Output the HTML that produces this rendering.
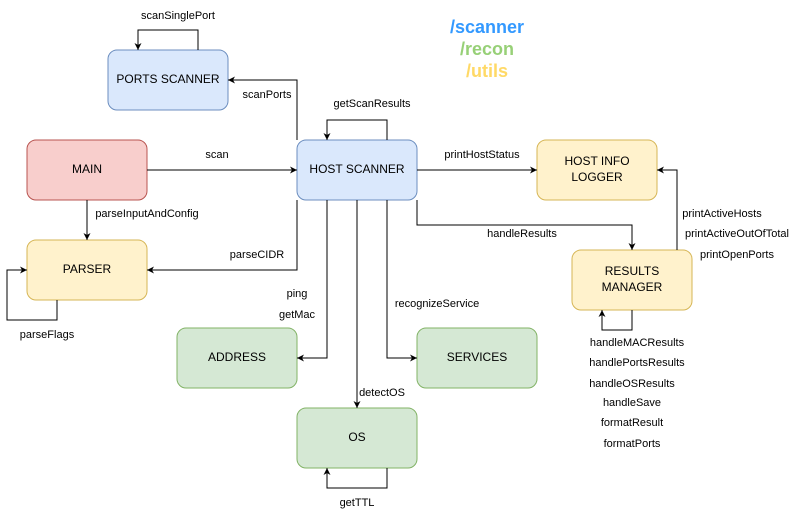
<!DOCTYPE html>
<html><head><meta charset="utf-8"><style>
html,body{margin:0;padding:0;background:#fff}
svg{display:block}
text{font-family:"Liberation Sans",Arial,sans-serif}
.n{font-size:12px;fill:#000;text-anchor:middle;dominant-baseline:middle}
.l{font-size:11px;fill:#000;text-anchor:middle;dominant-baseline:middle}
.e{fill:none;stroke:#000;stroke-width:1}
</style></head><body>
<svg width="808" height="519" viewBox="0 0 808 519" xmlns="http://www.w3.org/2000/svg">
<defs><marker id="a" markerWidth="8" markerHeight="8" refX="7" refY="4" orient="auto" markerUnits="userSpaceOnUse"><path d="M0,0.5 L7,4 L0,7.5 L2,4 Z" fill="#000"/></marker></defs>
<!-- nodes -->
<rect x="108" y="50" width="120" height="60" rx="9" fill="#dae8fc" stroke="#6c8ebf"/>
<text class="n" x="168" y="80">PORTS SCANNER</text>
<rect x="27" y="140" width="120" height="60" rx="9" fill="#f8cecc" stroke="#b85450"/>
<text class="n" x="87" y="170">MAIN</text>
<rect x="297" y="140" width="120" height="60" rx="9" fill="#dae8fc" stroke="#6c8ebf"/>
<text class="n" x="357" y="170">HOST SCANNER</text>
<rect x="537" y="140" width="120" height="60" rx="9" fill="#fff2cc" stroke="#d6b656"/>
<text class="n" x="597" y="162">HOST INFO</text><text class="n" x="597" y="178">LOGGER</text>
<rect x="27" y="240" width="120" height="60" rx="9" fill="#fff2cc" stroke="#d6b656"/>
<text class="n" x="87" y="270">PARSER</text>
<rect x="572" y="250" width="120" height="60" rx="9" fill="#fff2cc" stroke="#d6b656"/>
<text class="n" x="632" y="272">RESULTS</text><text class="n" x="632" y="288">MANAGER</text>
<rect x="177" y="328" width="120" height="60" rx="9" fill="#d5e8d4" stroke="#82b366"/>
<text class="n" x="237" y="358">ADDRESS</text>
<rect x="417" y="328" width="120" height="60" rx="9" fill="#d5e8d4" stroke="#82b366"/>
<text class="n" x="477" y="358">SERVICES</text>
<rect x="297" y="408" width="120" height="60" rx="9" fill="#d5e8d4" stroke="#82b366"/>
<text class="n" x="357" y="438">OS</text>
<!-- edges -->
<path class="e" d="M198,50 V30 H138 V50" marker-end="url(#a)"/>
<path class="e" d="M297,140 V80 H228" marker-end="url(#a)"/>
<path class="e" d="M387,140 V120 H327 V140" marker-end="url(#a)"/>
<path class="e" d="M147,170 H297" marker-end="url(#a)"/>
<path class="e" d="M417,170 H537" marker-end="url(#a)"/>
<path class="e" d="M417,200 V225 H632 V250" marker-end="url(#a)"/>
<path class="e" d="M677,250 V170 H657" marker-end="url(#a)"/>
<path class="e" d="M632,310 V330 H602 V310" marker-end="url(#a)"/>
<path class="e" d="M87,200 V240" marker-end="url(#a)"/>
<path class="e" d="M57,300 V320 H7 V270 H27" marker-end="url(#a)"/>
<path class="e" d="M297,200 V270 H147" marker-end="url(#a)"/>
<path class="e" d="M327,200 V358 H297" marker-end="url(#a)"/>
<path class="e" d="M357,200 V408" marker-end="url(#a)"/>
<path class="e" d="M387,200 V358 H417" marker-end="url(#a)"/>
<path class="e" d="M387,468 V488 H327 V468" marker-end="url(#a)"/>
<!-- labels -->
<g class="l">
<text class="l" x="178" y="16">scanSinglePort</text>
<text class="l" x="267" y="95">scanPorts</text>
<text class="l" x="372" y="104">getScanResults</text>
<text class="l" x="217" y="155">scan</text>
<text class="l" x="482" y="155">printHostStatus</text>
<text class="l" x="522" y="234">handleResults</text>
<text class="l" x="722" y="214">printActiveHosts</text>
<text class="l" x="737" y="234">printActiveOutOfTotal</text>
<text class="l" x="737" y="255">printOpenPorts</text>
<text class="l" x="147" y="214">parseInputAndConfig</text>
<text class="l" x="47" y="335">parseFlags</text>
<text class="l" x="257" y="255">parseCIDR</text>
<text class="l" x="297" y="294">ping</text>
<text class="l" x="297" y="315">getMac</text>
<text class="l" x="437" y="304">recognizeService</text>
<text class="l" x="382" y="393">detectOS</text>
<text class="l" x="357" y="503">getTTL</text>
<text class="l" x="637" y="343">handleMACResults</text>
<text class="l" x="637" y="363">handlePortsResults</text>
<text class="l" x="632" y="384">handleOSResults</text>
<text class="l" x="632" y="403">handleSave</text>
<text class="l" x="632" y="423">formatResult</text>
<text class="l" x="632" y="444">formatPorts</text>
</g>
<text x="487" y="28" font-size="18" font-weight="bold" fill="#3399ff" text-anchor="middle" dominant-baseline="middle">/scanner</text>
<text x="487" y="50" font-size="18" font-weight="bold" fill="#97d077" text-anchor="middle" dominant-baseline="middle">/recon</text>
<text x="487" y="72" font-size="18" font-weight="bold" fill="#ffd966" text-anchor="middle" dominant-baseline="middle">/utils</text>
</svg>
</body></html>
